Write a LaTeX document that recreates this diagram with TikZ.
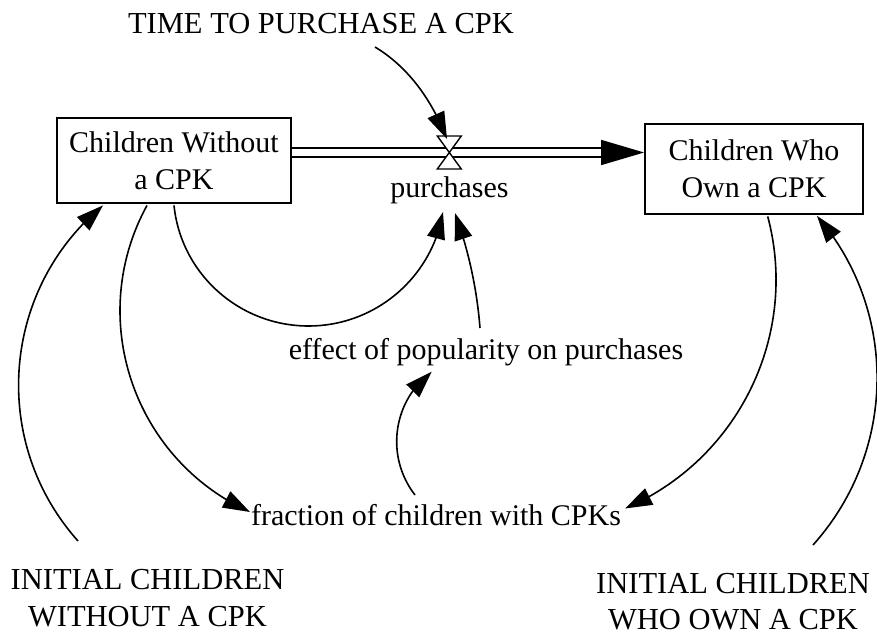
\documentclass[tikz,border=0pt]{standalone}
\usepackage{fontspec}
\setmainfont{Liberation Serif}
\usetikzlibrary{arrows.meta,bending}
\begin{document}
\begin{tikzpicture}[x=1pt,y=-1pt,
  every node/.style={font=\fontsize{30}{37}\selectfont, inner sep=0pt},
  stock/.style={draw, line width=1.8pt, align=center},
  lbl/.style={text height=20.5pt, text depth=6.5pt},
  caps/.style={align=center, font=\fontsize{30.5}{36.7}\selectfont},
  conn/.style={line width=1.6pt, -{Triangle[length=27pt,width=18pt]}},
  pipe/.style={line width=1.7pt, double=white, double distance=6.7pt},
]
\useasboundingbox (0,0) rectangle (877,637);

% stocks
\node[stock, minimum width=234pt, minimum height=85pt] (box1) at (174,160.5) {Children Without\\a CPK};
\node[stock, minimum width=218pt, minimum height=90pt] (box2) at (754,169) {Children Who\\Own a CPK};

% flow with valve
\coordinate (valve) at (449.3,152.5);
\path (box2.west |- valve) coordinate (flowtip) ++(-43,0) coordinate (pipeend);
\draw[pipe] (box1.east |- valve) -- (pipeend);
\draw[line width=1.7pt, -{Triangle[length=43pt,width=25pt]}] (pipeend) -- (flowtip);
\filldraw[fill=white, line width=1.4pt]
  ([shift={(-12,-16.5)}]valve) -- ([shift={(12,-16.5)}]valve) --
  ([shift={(-12,16.5)}]valve) -- ([shift={(12,16.5)}]valve) -- cycle;

% auxiliaries and constants
\node[lbl, font=\fontsize{30.5}{36.7}\selectfont] (time) at (321,26.3) {TIME TO PURCHASE A CPK};
\node[lbl] (purch) at (449.5,190) {purchases};
\node[lbl] (effect) at (486,352) {effect of popularity on purchases};
\node[lbl] (frac) at (436,518) {fraction of children with CPKs};
\node[caps] (initA) at (147.5,598.4) {INITIAL CHILDREN\\WITHOUT A CPK};
\node[caps] (initB) at (733,601.5) {INITIAL CHILDREN\\WHO OWN A CPK};

% causal links
\draw[conn] ([shift={(54,20.7)}]time.center) .. controls (409.3,67.6) and (432.6,101.7) .. ([shift={(-2.3,-13.5)}]valve);
\draw[conn] ([shift={(-69.5,-57.4)}]initA.center) .. controls (-10.2,442.1) and (1.1,289.7) .. ([shift={(-71,1.5)}]box1.south);
\draw[conn] ([shift={(-27,1.5)}]box1.south) .. controls (85.5,317.8) and (132.9,459.1) .. ([shift={(-186,-6)}]frac.center);
\draw[conn] ([shift={(0,1.5)}]box1.south) .. controls (181.0,273.9) and (239.25,326) .. (308.6,326)
  .. controls (375.2,326) and (432.1,277.7) .. ([shift={(-6.5,22)}]purch.center);
\draw[conn] ([shift={(-6,-24)}]effect.center) .. controls (476.9,288.6) and (468.5,250.2) .. ([shift={(5.5,23)}]purch.center);
\draw[conn] ([shift={(-21,-23)}]frac.center) .. controls (385.1,456.4) and (392.6,400.9) .. ([shift={(-54.3,19.7)}]effect.center);
\draw[conn] ([shift={(13.7,1.5)}]box2.south) .. controls (799.4,335.2) and (738.4,459.9) .. ([shift={(189,-9.5)}]frac.center);
\draw[conn] ([shift={(80,-56.5)}]initB.center) .. controls (896.9,451.6) and (898.6,310.5) .. ([shift={(63,1)}]box2.south);
\end{tikzpicture}
\end{document}
